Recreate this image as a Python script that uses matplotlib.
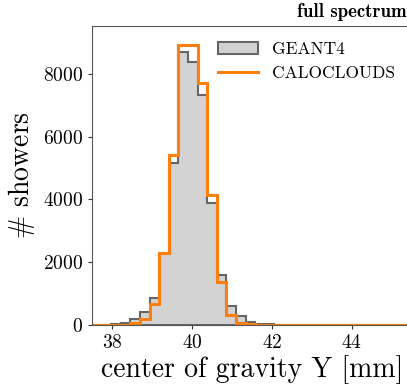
import matplotlib
matplotlib.use('AGG')
import matplotlib.pyplot as plt
from matplotlib.lines import Line2D
from matplotlib.patches import Patch
import numpy as np

plt.rcParams['font.family'] = ['cmr10', 'DejaVu Serif']
plt.rcParams['mathtext.fontset'] = 'cm'
plt.rcParams['axes.formatter.use_mathtext'] = True

# bin edges of the center-of-gravity histogram [mm]
bin_edges = np.round(37.5 + 0.24 * np.arange(35), 2)

# showers per bin
geant4 = [0, 5, 20, 75, 180, 425, 870, 2280, 5160, 8690, 8370, 7340, 3880,
          1585, 605, 290, 95, 40, 20, 5, 0, 0, 0, 0, 0, 0, 0, 0, 0, 0, 0, 0, 0, 0]
caloclouds = [0, 0, 5, 15, 50, 180, 670, 2290, 5425, 8935, 8925, 7710, 4130,
              1380, 320, 75, 20, 5, 0, 0, 0, 0, 0, 0, 0, 0, 0, 0, 0, 0, 0, 0, 0, 0]

xticks = [38, 40, 42, 44]
yticks = [0, 2000, 4000, 6000, 8000]

fig = plt.figure(figsize=(4.07, 3.86), dpi=100)
ax = fig.add_axes([0.226, 0.158, 0.786, 0.775])

centers = bin_edges[:-1]
ax.hist(centers, bins=bin_edges, weights=geant4, histtype='stepfilled',
        facecolor='#d3d3d3', edgecolor='#666666', linewidth=1.5)
ax.hist(centers, bins=bin_edges, weights=caloclouds, histtype='step',
        color='#ff7f0e', linewidth=2.2)

ax.set_xlim(37.5, 45.5)
ax.set_ylim(0, 9530)
ax.set_xticks(xticks)
ax.set_yticks(yticks)
ax.tick_params(labelsize=14, colors='#333333', labelcolor='black', length=3)
for s in ax.spines.values():
    s.set_color('#555555')

ax.set_xlabel('center of gravity Y [mm]', fontsize=20, labelpad=2)
ax.set_ylabel(r'$\#$ showers', fontsize=20, labelpad=4)
fig.text(0.998, 0.945, 'full spectrum', fontsize=13.5, ha='right', va='bottom',
         fontfamily='cmb10')

handles = [Patch(facecolor='#d3d3d3', edgecolor='#666666', linewidth=1.5),
           Line2D([], [], color='#ff7f0e', linewidth=2.2)]
ax.legend(handles, ['GEANT4', 'CALOCLOUDS'], loc='upper left',
          bbox_to_anchor=(0.345, 1.0), frameon=False, fontsize=12.5,
          handlelength=2.3, handletextpad=0.8)

fig.savefig('out.png', dpi=100)
